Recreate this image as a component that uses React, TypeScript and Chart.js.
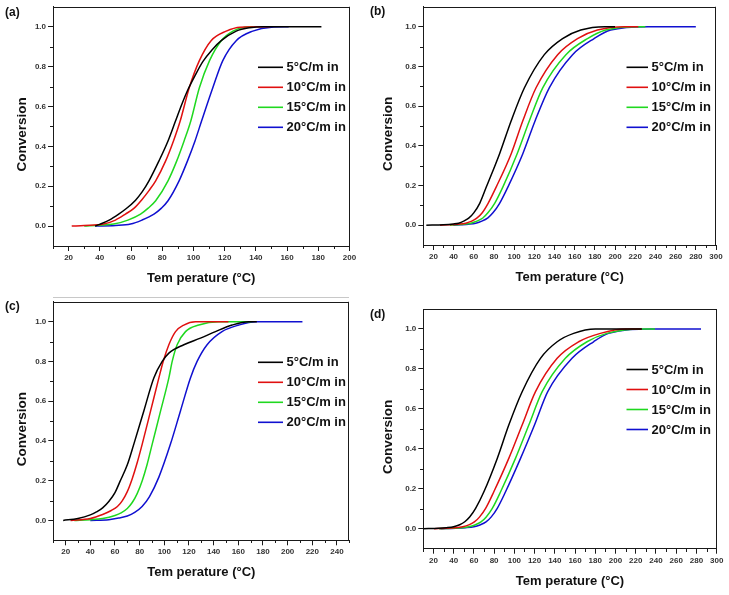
import { useEffect, useRef } from 'react';
import { Chart, registerables } from 'chart.js';

Chart.register(...registerables);

const FONT = "'Liberation Sans', Arial, Helvetica, sans-serif";
const AXIS = '#1a1a1a';

const rateLabels = ['5°C/m in', '10°C/m in', '15°C/m in', '20°C/m in'];
const rateColors = ['#000000', '#e01010', '#1fd81f', '#1010d0'];
const xTitle = 'Tem perature (°C)';
const yTitle = 'Conversion';

const yTicks = [0, 0.2, 0.4, 0.6, 0.8, 1.0];
const yMinorTicks = [0.1, 0.3, 0.5, 0.7, 0.9];
const xTicks200 = [20, 40, 60, 80, 100, 120, 140, 160, 180, 200];
const xMinor200 = [10, 30, 50, 70, 90, 110, 130, 150, 170, 190];
const xTicks300 = [20, 40, 60, 80, 100, 120, 140, 160, 180, 200, 220, 240, 260, 280, 300];
const xMinor300 = [10, 30, 50, 70, 90, 110, 130, 150, 170, 190, 210, 230, 250, 270, 290];
const xTicks250 = [20, 40, 60, 80, 100, 120, 140, 160, 180, 200, 220, 240];
const xMinor250 = [10, 30, 50, 70, 90, 110, 130, 150, 170, 190, 210, 230, 250];

// Panel (a)
const aT5 = [37, 40.3, 46, 52.1, 57, 62.9, 67, 71.5, 77.9, 83.7, 88.5, 92.5, 96.5, 101, 106, 112, 117.8, 127.4, 136, 145, 182];
const aC5 = [0, 0.01, 0.03, 0.06, 0.088, 0.13, 0.17, 0.227, 0.327, 0.427, 0.527, 0.61, 0.685, 0.755, 0.825, 0.885, 0.93, 0.978, 0.995, 1.0, 1.0];
const aT10 = [22, 30, 42.4, 50, 56.4, 62, 67.2, 71.5, 75.8, 82.2, 87.2, 91.5, 97.3, 103.8, 111.3, 121, 130, 149];
const aC10 = [0, 0.003, 0.01, 0.03, 0.06, 0.09, 0.135, 0.178, 0.227, 0.327, 0.427, 0.527, 0.694, 0.83, 0.93, 0.978, 0.998, 1.0];
const aT15 = [30, 40, 48.9, 58, 66.1, 71, 75.8, 83.7, 89.3, 94, 98.3, 103.8, 110.3, 117.8, 125.3, 133, 138];
const aC15 = [0, 0.004, 0.01, 0.03, 0.06, 0.09, 0.127, 0.227, 0.327, 0.427, 0.527, 0.694, 0.83, 0.93, 0.978, 0.998, 1.0];
const aT20 = [37, 50, 59.7, 67, 74.7, 79.5, 83.7, 90.8, 96.2, 101, 105.2, 112.4, 118.8, 127.4, 138, 150, 161];
const aC20 = [0, 0.003, 0.01, 0.03, 0.06, 0.09, 0.127, 0.227, 0.327, 0.427, 0.527, 0.694, 0.83, 0.93, 0.978, 0.998, 1.0];

// Panel (b)
const bT5 = [13, 30, 40, 45, 50, 55, 60, 65.9, 72.5, 85.6, 97.1, 110.2, 129.9, 148, 166, 190, 200];
const bC5 = [0, 0.002, 0.006, 0.01, 0.02, 0.035, 0.062, 0.11, 0.193, 0.36, 0.526, 0.692, 0.859, 0.94, 0.983, 1.0, 1.0];
const bT10 = [26.6, 35, 45, 52, 58, 63, 68, 74.2, 82.3, 97.1, 108.6, 121.7, 143.1, 162.8, 182.5, 210, 223];
const bC10 = [0, 0.0015, 0.005, 0.01, 0.02, 0.035, 0.06, 0.11, 0.193, 0.36, 0.526, 0.692, 0.859, 0.94, 0.983, 1.0, 1.0];
const bT15 = [36.4, 43, 50, 57, 63, 69, 74, 80.7, 88.9, 103, 115.1, 128.3, 151.3, 172.7, 190.7, 223, 230];
const bC15 = [0, 0.002, 0.005, 0.01, 0.02, 0.036, 0.062, 0.11, 0.193, 0.36, 0.526, 0.692, 0.859, 0.94, 0.983, 1.0, 1.0];
const bT20 = [39.7, 47, 55, 62, 68, 74, 79, 85.6, 93.9, 108.6, 120.8, 134.8, 157.9, 179.2, 195.6, 233, 280];
const bC20 = [0, 0.002, 0.005, 0.01, 0.02, 0.037, 0.062, 0.11, 0.193, 0.36, 0.526, 0.692, 0.859, 0.94, 0.983, 1.0, 1.0];

// Panel (c)
const cT5 = [18, 30, 40, 45, 50, 55, 60, 64, 70, 75.3, 83.4, 91.5, 98.3, 103.7, 115.8, 129.3, 141.5, 155, 168.5, 175];
const cC5 = [0, 0.01, 0.028, 0.043, 0.063, 0.095, 0.14, 0.195, 0.28, 0.384, 0.551, 0.717, 0.8, 0.842, 0.884, 0.917, 0.95, 0.983, 1.0, 1.0];
const cT10 = [24, 40, 50, 57, 62, 66, 70, 74, 78, 82.1, 88.9, 95.6, 99.1, 103.7, 109.1, 115.8, 125.3, 152];
const cC10 = [0, 0.01, 0.03, 0.05, 0.07, 0.1, 0.145, 0.21, 0.29, 0.384, 0.551, 0.717, 0.8, 0.884, 0.95, 0.983, 1.0, 1.0];
const cT15 = [27, 40, 50, 60, 65, 70, 74, 78, 82.1, 86, 90.2, 97, 103.7, 106.4, 110.4, 117.2, 128, 144, 171];
const cC15 = [0, 0.004, 0.01, 0.025, 0.038, 0.06, 0.09, 0.135, 0.2, 0.28, 0.384, 0.551, 0.717, 0.8, 0.884, 0.95, 0.983, 1.0, 1.0];
const cT20 = [40, 55, 63, 70, 76, 82, 88, 95.6, 105, 113.1, 121.2, 126.6, 134.7, 146.8, 160.4, 174, 212];
const cC20 = [0, 0.004, 0.012, 0.022, 0.04, 0.07, 0.12, 0.218, 0.384, 0.551, 0.717, 0.8, 0.884, 0.95, 0.983, 1.0, 1.0];

// Panel (d)
const dT5 = [10, 25, 33, 40, 46, 51, 56, 61.7, 69.9, 83.1, 94.5, 107.7, 125.8, 142.3, 158.6, 180, 226];
const dC5 = [0, 0.002, 0.005, 0.01, 0.02, 0.035, 0.06, 0.102, 0.185, 0.352, 0.519, 0.686, 0.853, 0.936, 0.978, 1.0, 1.0];
const dT10 = [20.7, 33, 42, 49, 55, 60.5, 65.5, 71.6, 79.7, 94.5, 107.7, 120.9, 142.3, 163.6, 185, 210, 226];
const dC10 = [0, 0.002, 0.005, 0.01, 0.019, 0.034, 0.058, 0.102, 0.185, 0.352, 0.519, 0.686, 0.853, 0.936, 0.978, 1.0, 1.0];
const dT15 = [25.6, 38, 48, 55, 61, 67, 72, 78.2, 86.4, 101.1, 114.3, 127.5, 150.4, 171.8, 191.5, 226, 239];
const dC15 = [0, 0.002, 0.005, 0.01, 0.019, 0.034, 0.058, 0.102, 0.185, 0.352, 0.519, 0.686, 0.853, 0.936, 0.978, 1.0, 1.0];
const dT20 = [27, 42, 52, 60, 66, 72, 77, 83.1, 91.3, 106.1, 119.9, 133, 157, 178.3, 193.1, 236, 284.5];
const dC20 = [0, 0.002, 0.005, 0.01, 0.019, 0.034, 0.058, 0.102, 0.185, 0.352, 0.519, 0.686, 0.853, 0.936, 0.978, 1.0, 1.0];

type PanelCfg = {
  letter: string;
  x: number; y: number; w: number; h: number;
  left: number; top: number; right: number; bottom: number;
  xMin: number; xMax: number;
  xTicks: number[]; xMinor: number[];
  series: [number[], number[]][];
  yTitleX: number; letterY: number; legendX: number;
};

const panels: PanelCfg[] = [
  {
    letter: '(a)', x: 0, y: 0, w: 365, h: 295,
    left: 53, top: 6, right: 349.5, bottom: 246,
    xMin: 10, xMax: 200, xTicks: xTicks200, xMinor: xMinor200,
    series: [[aT5, aC5], [aT10, aC10], [aT15, aC15], [aT20, aC20]],
    yTitleX: 22, letterY: 13, legendX: 258,
  },
  {
    letter: '(b)', x: 365, y: 0, w: 364, h: 295,
    left: 58.3, top: 5, right: 351, bottom: 245,
    xMin: 10, xMax: 300, xTicks: xTicks300, xMinor: xMinor300,
    series: [[bT5, bC5], [bT10, bC10], [bT15, bC15], [bT20, bC20]],
    yTitleX: 23.5, letterY: 12, legendX: 261.5,
  },
  {
    letter: '(c)', x: 0, y: 295, w: 365, h: 300,
    left: 53.3, top: 5, right: 349.3, bottom: 245.3,
    xMin: 10, xMax: 250, xTicks: xTicks250, xMinor: xMinor250,
    series: [[cT5, cC5], [cT10, cC10], [cT15, cC15], [cT20, cC20]],
    yTitleX: 22, letterY: 12, legendX: 258,
  },
  {
    letter: '(d)', x: 365, y: 295, w: 364, h: 300,
    left: 58.3, top: 14, right: 351.7, bottom: 253.7,
    xMin: 10, xMax: 300, xTicks: xTicks300, xMinor: xMinor300,
    series: [[dT5, dC5], [dT10, dC10], [dT15, dC15], [dT20, dC20]],
    yTitleX: 23.5, letterY: 20, legendX: 261.5,
  },
];

function makeDecor(p: PanelCfg) {
  return {
    id: 'decor' + p.letter.replace(/[()]/g, ''),
    afterDraw(chart: any) {
      const { ctx, chartArea: a } = chart;
      const xs = chart.scales.x;
      const ys = chart.scales.y;
      ctx.save();
      ctx.strokeStyle = AXIS;
      ctx.lineWidth = 1;
      ctx.beginPath();
      const tY = Math.round(a.top) + 0.5;
      const rX = Math.round(a.right) - 0.5;
      ctx.moveTo(a.left, tY);
      ctx.lineTo(rX + 0.5, tY);
      ctx.moveTo(rX, a.top);
      ctx.lineTo(rX, a.bottom);
      const bY = Math.round(a.bottom);
      for (const v of p.xMinor) {
        const px = Math.round(xs.getPixelForValue(v)) + 0.5;
        ctx.moveTo(px, bY);
        ctx.lineTo(px, bY + 3);
      }
      const lX = Math.round(a.left);
      for (const v of yMinorTicks) {
        const py = Math.round(ys.getPixelForValue(v)) + 0.5;
        ctx.moveTo(lX - 3, py);
        ctx.lineTo(lX, py);
      }
      ctx.stroke();

      ctx.fillStyle = '#111';
      ctx.textAlign = 'center';
      ctx.textBaseline = 'middle';
      ctx.font = `bold 13px ${FONT}`;
      ctx.fillText(xTitle, (a.left + a.right) / 2, a.bottom + 32.5);

      ctx.save();
      ctx.translate(p.yTitleX, (a.top + a.bottom) / 2 + 8);
      ctx.rotate(-Math.PI / 2);
      ctx.font = `bold 13.5px ${FONT}`;
      ctx.fillText(yTitle, 0, 0);
      ctx.restore();

      // legend
      ctx.textAlign = 'left';
      ctx.font = `bold 13px ${FONT}`;
      rateLabels.forEach((lab, i) => {
        const yy = a.top + 60.5 + 20 * i;
        ctx.strokeStyle = rateColors[i];
        ctx.lineWidth = 1.6;
        ctx.beginPath();
        ctx.moveTo(p.legendX, yy);
        ctx.lineTo(283, yy);
        ctx.stroke();
        ctx.fillStyle = '#111';
        ctx.fillText(lab, 286.5, yy + 0.5);
      });

      ctx.font = `bold 12px ${FONT}`;
      ctx.fillStyle = '#111';
      ctx.fillText(p.letter, 5, p.letterY);

      if (p.letter === '(c)') {
        ctx.strokeStyle = '#c8c8c8';
        ctx.lineWidth = 1;
        ctx.beginPath();
        ctx.moveTo(53, 2.5);
        ctx.lineTo(349, 2.5);
        ctx.stroke();
      }
      ctx.restore();
    },
  };
}

function Panel({ p }: { p: PanelCfg }) {
  const ref = useRef<HTMLCanvasElement>(null);
  useEffect(() => {
    if (!ref.current) return;
    const tickFont = { family: FONT, size: 8, weight: 'bold' as const };
    const chart = new Chart(ref.current, {
      type: 'line',
      data: {
        datasets: p.series.map(([T, C], i) => ({
          label: rateLabels[i],
          data: T.map((t, k) => ({ x: t, y: C[k] })),
          borderColor: rateColors[i],
          backgroundColor: rateColors[i],
          borderWidth: 1.5,
          pointRadius: 0,
          fill: false,
          cubicInterpolationMode: 'monotone' as const,
        })),
      },
      options: {
        animation: false,
        responsive: false,
        maintainAspectRatio: false,
        layout: { padding: { left: 0, top: p.top, right: p.w - p.right, bottom: 0 } },
        plugins: { legend: { display: false }, tooltip: { enabled: false } },
        scales: {
          x: {
            type: 'linear',
            min: p.xMin,
            max: p.xMax,
            afterBuildTicks: (s: any) => {
              s.ticks = p.xTicks.map((v) => ({ value: v }));
            },
            afterFit: (s: any) => {
              s.height = p.h - p.bottom;
            },
            grid: { drawOnChartArea: false, drawTicks: true, tickLength: 5, color: AXIS, lineWidth: 1 },
            border: { display: true, color: AXIS, width: 1 },
            ticks: {
              font: tickFont,
              color: '#333',
              padding: 2,
              maxRotation: 0,
              autoSkip: false,
              callback: (v: any) => String(v),
            },
          },
          y: {
            type: 'linear',
            min: -0.1,
            max: 1.1,
            afterBuildTicks: (s: any) => {
              s.ticks = yTicks.map((v) => ({ value: v }));
            },
            afterFit: (s: any) => {
              s.width = p.left;
            },
            grid: { drawOnChartArea: false, drawTicks: true, tickLength: 5, color: AXIS, lineWidth: 1 },
            border: { display: true, color: AXIS, width: 1 },
            ticks: {
              font: tickFont,
              color: '#333',
              padding: 2,
              autoSkip: false,
              callback: (v: any) => Number(v).toFixed(1),
            },
          },
        },
      },
      plugins: [makeDecor(p)],
    });
    return () => chart.destroy();
  }, [p]);
  return (
    <canvas
      ref={ref}
      width={p.w}
      height={p.h}
      style={{ position: 'absolute', left: p.x, top: p.y, width: p.w, height: p.h }}
    />
  );
}

export default function App() {
  return (
    <div style={{ position: 'absolute', left: 0, top: 0, width: 729, height: 595, background: '#fff', overflow: 'hidden' }}>
      {panels.map((p) => (
        <Panel key={p.letter} p={p} />
      ))}
    </div>
  );
}
